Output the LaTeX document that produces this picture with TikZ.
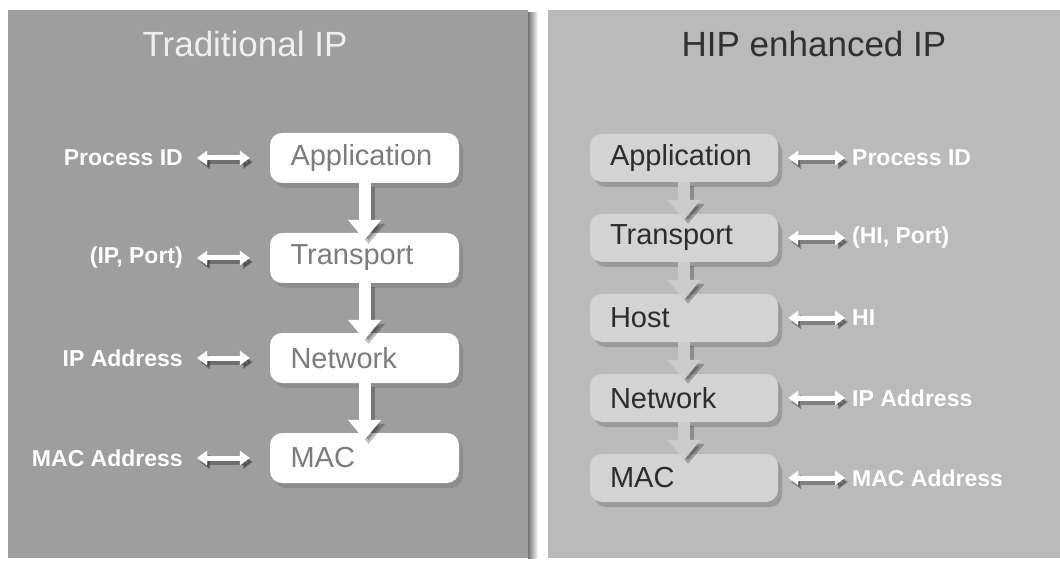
\documentclass[tikz,border=0pt]{standalone}
\usepackage{fontspec}
\setmainfont{Liberation Sans}
\usetikzlibrary{arrows.meta,shadows}
\definecolor{lpanel}{HTML}{9E9E9E}
\definecolor{rpanel}{HTML}{BABABA}
\definecolor{ltext}{HTML}{7C7C7C}
\definecolor{rbox}{HTML}{D3D3D3}
\definecolor{rtext}{HTML}{2C2C2C}
\definecolor{ltitle}{HTML}{EFEFEF}
\definecolor{rtitle}{HTML}{303030}
\definecolor{rarrow}{HTML}{CBCBCB}
\tikzset{
  boxfont/.style={font=\fontsize{29}{34}\selectfont},
  labfont/.style={font=\bfseries\fontsize{23}{27}\selectfont},
  lbox/.style={boxfont, rounded corners=12pt, fill=white, text=ltext,
    minimum height=50pt, text width=148pt, inner xsep=20.5pt, align=left,
    drop shadow={shadow xshift=4pt, shadow yshift=-5pt, opacity=.55}},
  rboxs/.style={boxfont, rounded corners=12pt, fill=rbox, text=rtext,
    minimum height=48pt, text width=148pt, inner xsep=20pt, align=left,
    drop shadow={shadow xshift=4pt, shadow yshift=-5pt, opacity=.55}},
  lab/.style={labfont, text=white, inner sep=0pt},
  title/.style={font=\fontsize{35}{40}\selectfont, inner sep=0pt},
  downarrow/.style={line width=12pt, -{Triangle[width=32pt,length=20pt]}},
  downshadow/.style={downarrow, draw=black, opacity=.25,
    transform canvas={shift={(4pt,-4pt)}}},
  dbl/.style={draw=white, line width=5pt,
    {Triangle[width=14pt,length=10pt]}-{Triangle[width=14pt,length=10pt]}},
  dblshadow/.style={dbl, draw=black, opacity=.3,
    transform canvas={shift={(3pt,-4pt)}}},
}
\begin{document}
\begin{tikzpicture}[x=1pt,y=-1pt]
\useasboundingbox (0,0) rectangle (1060,561);
\fill[white] (0,0) rectangle (1060,561);
% panels
\fill[lpanel] (8,10) rectangle (528,558);
\shade[left color=black!55, right color=white] (528,13) rectangle (538,558);
\fill[rpanel] (548,10) rectangle (1060,558);
% titles
\node[title, text=ltitle] (ltit) at (245,44) {Traditional IP};
\node[title, text=rtitle] (rtit) at (814,44) {HIP enhanced IP};
% left stack
\node[lbox] (lapp) at (364.5,158) {Application};
\node[lbox] (ltra) at (364.5,258) {Transport};
\node[lbox] (lnet) at (364.5,358) {Network};
\node[lbox] (lmac) at (364.5,458) {MAC};
\foreach \a/\b in {lapp/ltra, ltra/lnet, lnet/lmac}{
  \draw[downshadow] (\a.south) -- ([yshift=-7pt]\b.north);
  \draw[downarrow, draw=white] (\a.south) -- ([yshift=-7pt]\b.north);
}
% left labels
\node[lab, anchor=east] (lpid) at (183,158) {Process ID};
\node[lab, anchor=east] (lipp) at (183,258) {(IP, Port)};
\node[lab, anchor=east] (lipa) at (183,358) {IP Address};
\node[lab, anchor=east] (lmaca) at (183,458) {MAC Address};
\foreach \a/\b in {lpid/lapp, lipp/ltra, lipa/lnet, lmaca/lmac}{
  \draw[dblshadow, shorten <=14pt, shorten >=20pt] (\a.east) -- (\b.west);
  \draw[dbl, shorten <=14pt, shorten >=20pt] (\a.east) -- (\b.west);
}
% right stack
\node[rboxs] (rapp) at (684,158) {Application};
\node[rboxs] (rtra) at (684,238) {Transport};
\node[rboxs] (rhost) at (684,318) {Host};
\node[rboxs] (rnet) at (684,398) {Network};
\node[rboxs] (rmac) at (684,478) {MAC};
\foreach \a/\b in {rapp/rtra, rtra/rhost, rhost/rnet, rnet/rmac}{
  \draw[downshadow] (\a.south) -- ([yshift=-6pt]\b.north);
  \draw[downarrow, draw=rarrow] (\a.south) -- ([yshift=-6pt]\b.north);
}
% right labels
\node[lab, anchor=west] (rpid) at (852,158) {Process ID};
\node[lab, anchor=west] (rhip) at (852,238) {(HI, Port)};
\node[lab, anchor=west] (rhi) at (852,318) {HI};
\node[lab, anchor=west] (ripa) at (852,398) {IP Address};
\node[lab, anchor=west] (rmaca) at (852,478) {MAC Address};
\foreach \a/\b in {rapp/rpid, rtra/rhip, rhost/rhi, rnet/ripa, rmac/rmaca}{
  \draw[dblshadow, shorten <=10pt, shorten >=7pt] (\a.east) -- (\b.west);
  \draw[dbl, shorten <=10pt, shorten >=7pt] (\a.east) -- (\b.west);
}
\end{tikzpicture}
\end{document}
